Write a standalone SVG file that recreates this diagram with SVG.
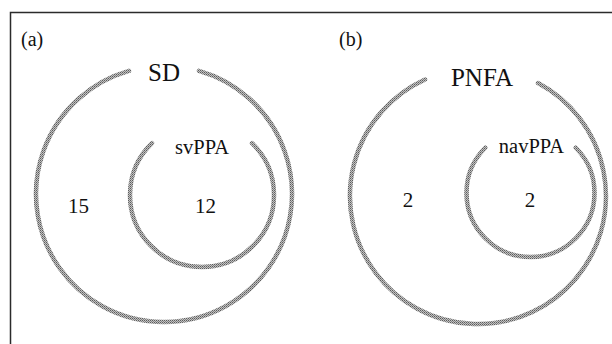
<svg xmlns="http://www.w3.org/2000/svg" width="612" height="344" viewBox="0 0 612 344">
  <defs>
    <!-- halftone-like grey texture for the ring strokes -->
    <pattern id="halftone" patternUnits="userSpaceOnUse" width="2" height="2">
      <rect width="2" height="2" fill="#c2c2c2"/>
      <rect width="1" height="1" fill="#5c5c5c"/>
      <rect x="1" y="1" width="1" height="1" fill="#808080"/>
    </pattern>
  </defs>
  <style>
    .frame { fill: none; stroke: #2b2b2b; stroke-width: 1.5; }
    .ring { fill: none; stroke: url(#halftone); stroke-width: 4.5; stroke-linecap: round; }
    .panel { font-family: "Liberation Serif", "Times New Roman", serif; font-size: 20px; fill: #111; }
    .set { font-family: "Liberation Serif", "Times New Roman", serif; font-size: 25px; fill: #111; text-anchor: middle; }
    .subset { font-family: "Liberation Serif", "Times New Roman", serif; font-size: 20.5px; fill: #111; text-anchor: middle; }
    .count { font-family: "Liberation Serif", "Times New Roman", serif; font-size: 21px; fill: #111; text-anchor: middle; }
  </style>

  <rect width="612" height="344" fill="#ffffff"/>

  <!-- figure frame: top and left edges only -->
  <path class="frame" d="M10.5 344 V12.5 H612"/>

  <!-- panel (a) -->
  <g id="panel-a">
    <text class="panel" x="21" y="46">(a)</text>
    <g id="set-sd">
      <path class="ring" d="M129 70.9 A128 128 0 1 0 199 70.9"/>
      <text class="set" x="164" y="81">SD</text>
      <text class="count" x="78.5" y="213">15</text>
    </g>
    <g id="set-svppa">
      <path class="ring" d="M152 143.2 A72 72 0 1 0 252 143.2"/>
      <text class="subset" x="202" y="154">svPPA</text>
      <text class="count" x="205.5" y="213">12</text>
    </g>
  </g>

  <!-- panel (b) -->
  <g id="panel-b">
    <text class="panel" x="339" y="46">(b)</text>
    <g id="set-pnfa">
      <path class="ring" d="M425 79.5 A128 128 0 1 0 538 83"/>
      <text class="set" x="482" y="86">PNFA</text>
      <text class="count" x="408" y="207">2</text>
    </g>
    <g id="set-navppa">
      <path class="ring" d="M485.25 147.75 A64 64 0 1 0 575.75 147.75"/>
      <text class="subset" x="531.5" y="153">navPPA</text>
      <text class="count" x="530" y="207">2</text>
    </g>
  </g>

  <!-- no connectors in this figure -->
  <g id="connectors"/>
</svg>
